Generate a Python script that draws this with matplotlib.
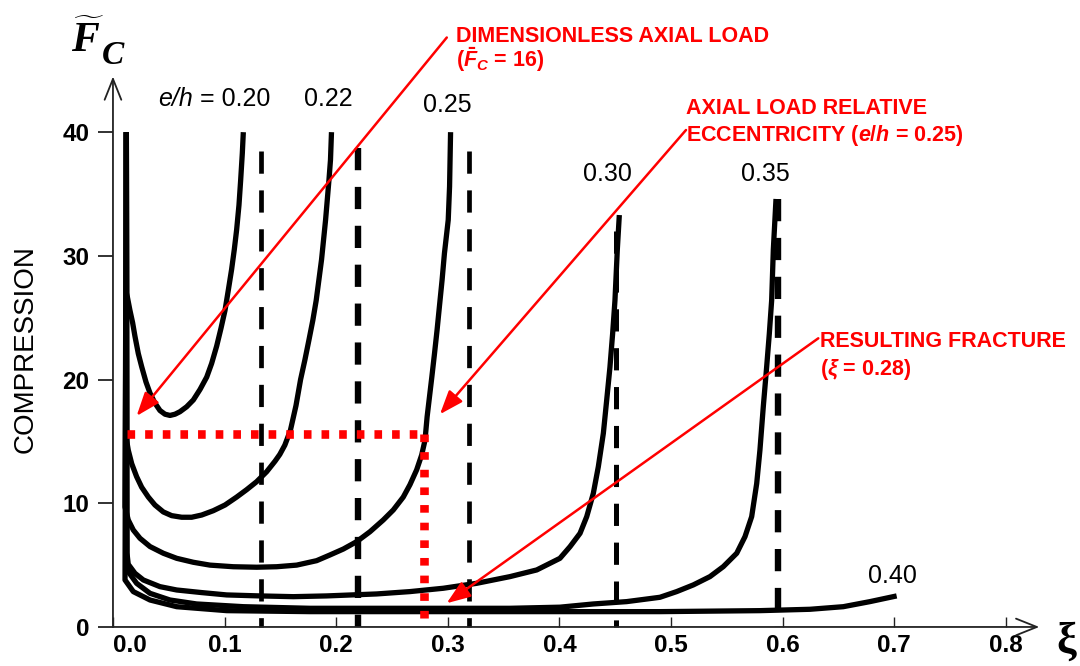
import matplotlib
matplotlib.use("Agg")
import matplotlib.pyplot as plt
import matplotlib.transforms as mtransforms

plt.rcParams['font.family'] = ['Liberation Sans', 'DejaVu Sans']
plt.rcParams['mathtext.fontset'] = 'custom'
plt.rcParams['mathtext.rm'] = 'Liberation Sans:bold'
plt.rcParams['mathtext.it'] = 'Liberation Sans:italic:bold'
plt.rcParams['mathtext.bf'] = 'Liberation Serif:italic:bold'
plt.rcParams['lines.scale_dashes'] = False

# compression curves, one per relative eccentricity e/h (xi, dimensionless load)
xi_020 = [0.012, 0.0122, 0.0152, 0.0176, 0.0197, 0.0227, 0.0257, 0.0296, 0.0332, 0.0376,
          0.0421, 0.0466, 0.0511, 0.0556, 0.0600, 0.0660, 0.0720, 0.0780, 0.0840, 0.0884,
          0.0929, 0.0968, 0.1004, 0.1033, 0.1063, 0.1087, 0.1108, 0.1129, 0.1144, 0.1159, 0.1168]
fc_020 = [40.0, 27.0, 25.6, 24.6, 23.5, 22.1, 21.05, 19.8, 18.9, 18.1,
          17.5, 17.2, 17.1, 17.2, 17.4, 17.8, 18.35, 19.2, 20.2, 21.3,
          22.7, 24.15, 25.6, 27.2, 28.9, 30.5, 32.1, 34.1, 36.1, 38.3, 40.0]

xi_022 = [0.012, 0.0122, 0.0137, 0.0168, 0.0212, 0.0257, 0.0317, 0.0376, 0.0451, 0.0526,
          0.0616, 0.0705, 0.0795, 0.0899, 0.1004, 0.1108, 0.1198, 0.1288, 0.1377, 0.1452,
          0.1495, 0.1540, 0.1590, 0.1640, 0.1681, 0.1720, 0.1756, 0.1791, 0.1821, 0.1845,
          0.1869, 0.1887, 0.1905, 0.1920, 0.1935, 0.1949, 0.1958]
fc_022 = [40.0, 15.1, 14.3, 13.2, 12.15, 11.3, 10.5, 9.86, 9.3, 9.0,
          8.87, 8.87, 9.05, 9.4, 9.86, 10.5, 11.1, 11.75, 12.55, 13.4,
          13.95, 14.7, 15.9, 17.9, 20.0, 21.6, 23.2, 24.8, 26.4, 28.05,
          29.7, 31.3, 32.9, 34.5, 36.1, 37.75, 40.0]

xi_025 = [0.012, 0.0108, 0.0137, 0.0182, 0.0242, 0.0332, 0.0451, 0.0571, 0.0720, 0.0869,
          0.1078, 0.1288, 0.1467, 0.1646, 0.1825, 0.1944, 0.2064, 0.2184, 0.2303, 0.2422,
          0.2512, 0.2601, 0.2661, 0.2721, 0.2766, 0.2796, 0.2815, 0.2836, 0.2857, 0.2881,
          0.2904, 0.2925, 0.2949, 0.2970, 0.3004, 0.3016, 0.3025]
fc_025 = [40.0, 9.7, 8.65, 7.84, 7.17, 6.5, 5.96, 5.55, 5.23, 5.0,
          4.87, 4.83, 4.87, 5.0, 5.36, 5.82, 6.3, 6.9, 7.7, 8.65,
          9.46, 10.5, 11.5, 12.7, 13.9, 15.1, 17.0, 18.6, 20.2, 22.1,
          24.0, 25.9, 28.05, 30.2, 32.9, 35.6, 40.0]

xi_030 = [0.012, 0.0125, 0.0137, 0.0197, 0.0272, 0.0421, 0.0571, 0.0795, 0.1019, 0.1317,
          0.1616, 0.1914, 0.2363, 0.2661, 0.2960, 0.3259, 0.3557, 0.3797, 0.4005, 0.4095,
          0.4185, 0.4245, 0.4304, 0.4349, 0.4394, 0.4424, 0.4453, 0.4477, 0.4498, 0.4519, 0.4537]
fc_030 = [40.0, 6.0, 5.07, 4.34, 3.8, 3.26, 2.99, 2.78, 2.59, 2.51,
          2.45, 2.51, 2.67, 2.86, 3.13, 3.53, 4.07, 4.61, 5.55, 6.49,
          7.57, 8.92, 10.8, 12.96, 15.66, 18.35, 21.0, 23.7, 26.4, 30.5, 33.3]

xi_035 = [0.012, 0.0125, 0.0137, 0.0212, 0.0332, 0.0511, 0.0750, 0.1168, 0.1765, 0.2661,
          0.3557, 0.4005, 0.4304, 0.4603, 0.4901, 0.5051, 0.5200, 0.5349, 0.5469, 0.5589,
          0.5663, 0.5723, 0.5768, 0.5797, 0.5827, 0.5857, 0.5881, 0.5902, 0.5917, 0.5941]
fc_035 = [40.0, 5.0, 4.47, 3.53, 2.72, 2.18, 1.86, 1.64, 1.51, 1.51,
          1.51, 1.6, 1.86, 2.05, 2.4, 2.86, 3.4, 4.07, 4.88, 5.96,
          7.3, 8.92, 11.6, 14.3, 17.8, 21.0, 23.7, 26.4, 30.5, 34.6]

xi_040 = [0.012, 0.0108, 0.0182, 0.0332, 0.0571, 0.1019, 0.1765, 0.2960, 0.4155, 0.4901,
          0.5797, 0.6245, 0.6544, 0.6783, 0.7022]
fc_040 = [40.0, 3.8, 2.86, 2.18, 1.64, 1.32, 1.24, 1.24, 1.24, 1.24,
          1.32, 1.43, 1.64, 2.05, 2.51]

curves = [(xi_020, fc_020), (xi_022, fc_022), (xi_025, fc_025),
          (xi_030, fc_030), (xi_035, fc_035), (xi_040, fc_040)]

# curve labels and where they sit
ecc_labels = ["0.20", "0.22", "0.25", "0.30", "0.35", "0.40"]
label_xi = [0.0717, 0.193, 0.300, 0.443, 0.585, 0.698]
label_fc = [42.7, 42.7, 42.2, 36.6, 36.6, 4.1]

# dashed asymptotes
asym_xi = [0.133, 0.220, 0.319, 0.451, 0.596]
asym_top = [38.5, 38.7, 38.5, 32.0, 34.6]
asym_lw = [3.4, 4.6, 3.4, 3.6, 4.6]

# worked example: e/h = 0.25, Fc = 16 -> xi = 0.28
ex_xi = 0.279
ex_fc = 15.6

x_ticks = [0.0, 0.1, 0.2, 0.3, 0.4, 0.5, 0.6, 0.7, 0.8]
x_tick_labels = ["0.0", "0.1", "0.2", "0.3", "0.4", "0.5", "0.6", "0.7", "0.8"]
y_ticks = [0, 10, 20, 30, 40]
y_tick_labels = ["0", "10", "20", "30", "40"]

W, H = 1080, 666
def fx(px):
    return px / W
def fy(py):
    return 1 - py / H

fig = plt.figure(figsize=(10.8, 6.66), dpi=100)
ax = fig.add_axes([0.1046, 0.0586, 0.8887, 0.8544])
ax.set_xlim(0, 0.86)
ax.set_ylim(0, 46)
for s in ax.spines.values():
    s.set_visible(False)

ax.set_xticks(x_ticks, x_tick_labels)
ax.set_yticks(y_ticks, y_tick_labels)
ax.tick_params(axis='x', direction='in', length=7, width=1.0, pad=5,
               labelsize=17.5, color='#222')
ax.tick_params(axis='y', direction='out', length=11, width=1.3, pad=6,
               labelsize=17.5, color='#222')
for lab in ax.get_xticklabels() + ax.get_yticklabels():
    lab.set_fontweight('bold')
lab0 = ax.get_xticklabels()[0]
lab0.set_transform(lab0.get_transform() +
                   mtransforms.ScaledTranslation(0.17, 0, fig.dpi_scale_trans))

# axes with arrow heads
arrow_ax = dict(arrowstyle='->,head_length=1.0,head_width=0.4', lw=1.3,
                color='#222', shrinkA=0, shrinkB=0, mutation_scale=15)
ax.annotate('', xy=(0, 44.5), xytext=(0, 0), arrowprops=arrow_ax, annotation_clip=False)
ax.annotate('', xy=(0.83, 0), xytext=(0, 0), arrowprops=arrow_ax, annotation_clip=False)

for x, top, w in zip(asym_xi, asym_top, asym_lw):
    ax.plot([x, x], [top, 0], color='black', lw=w, linestyle=(0, (16, 12)),
            dash_capstyle='butt', clip_on=False)

for xi, fc in curves:
    ax.plot(xi, fc, color='black', lw=3.8, solid_joinstyle='round',
            solid_capstyle='butt', clip_on=False)

# curve labels
ax.text(label_xi[0], label_fc[0], 'e/h', style='italic', fontsize=18,
        ha='right', va='center')
ax.text(label_xi[0], label_fc[0], ' = ' + ecc_labels[0], fontsize=18,
        ha='left', va='center')
for lab, x, y in zip(ecc_labels[1:], label_xi[1:], label_fc[1:]):
    ax.text(x, y, lab, fontsize=18, ha='center', va='center')

# red example lines
ax.plot([0.0122, ex_xi], [ex_fc, ex_fc], color='red', lw=6.2,
        linestyle=(0, (5.5, 7.2)), dash_capstyle='butt')
ax.plot([ex_xi, ex_xi], [ex_fc, 0], color='red', lw=6.2,
        linestyle=(0, (5.5, 7.2)), dash_capstyle='butt')

# axis titles
fig.text(fx(71), fy(52), r'$\widetilde{\mathbf{F}}$', fontsize=30,
         va='baseline', ha='left')
fig.text(fx(102), fy(64), 'C', family='Liberation Serif', weight='bold',
         style='italic', fontsize=24, va='baseline', ha='left')
fig.text(fx(1066), fy(642), 'ξ', family='Liberation Serif', weight='bold',
         fontsize=32, ha='center', va='center')
fig.text(fx(26), fy(349), 'COMPRESSION', rotation=90, fontsize=20,
         ha='center', va='center')

# red annotations
red = '#ff0000'
rkw = dict(color=red, fontsize=15.5, fontweight='bold', ha='left', va='baseline')
fig.text(fx(456), fy(42), 'DIMENSIONLESS AXIAL LOAD', **rkw)
fig.text(fx(456), fy(67), r'($\bar{F}_C$ = 16)', **rkw)
fig.text(fx(686), fy(114), 'AXIAL LOAD RELATIVE', **rkw)
fig.text(fx(686), fy(141), r'ECCENTRICITY ($e/h$ = 0.25)', **rkw)
fig.text(fx(820), fy(346.7), 'RESULTING FRACTURE', **rkw)
fig.text(fx(820), fy(375), r'($\xi$ = 0.28)', **rkw)

arrow_red = dict(arrowstyle='-|>,head_length=0.8,head_width=0.3', color=red,
                 lw=1.8, mutation_scale=18, shrinkA=0, shrinkB=0)
ax.annotate('', xy=(0.0212, 17.06), xytext=(fx(446.8), fy(37.5)),
            textcoords='figure fraction', arrowprops=arrow_red, annotation_clip=False)
ax.annotate('', xy=(0.293, 17.2), xytext=(fx(686), fy(130)),
            textcoords='figure fraction', arrowprops=arrow_red, annotation_clip=False)
ax.annotate('', xy=(0.299, 1.92), xytext=(fx(818.3), fy(338.3)),
            textcoords='figure fraction', arrowprops=arrow_red, annotation_clip=False)

fig.savefig('out.png', dpi=100)
